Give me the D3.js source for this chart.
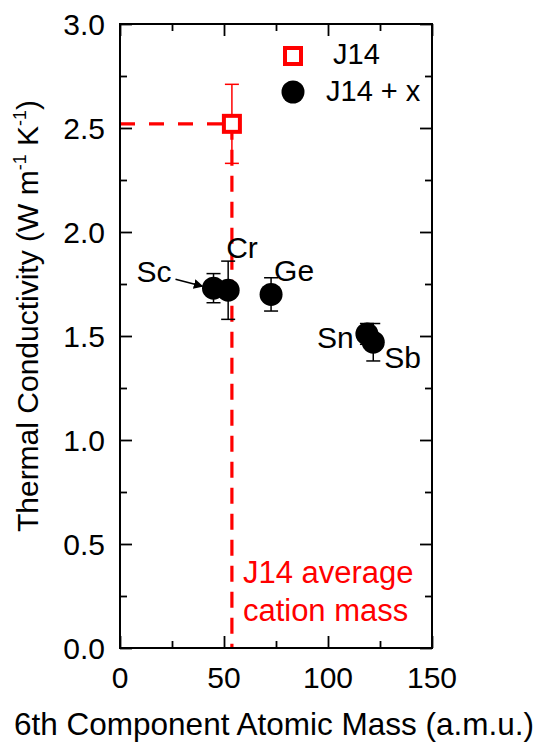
<!DOCTYPE html>
<html>
<head>
<meta charset="utf-8">
<script src="https://d3js.org/d3.v7.min.js"></script>
<style>
  body { margin: 0; background: #fff; }
  text { font-family: Arial, "Liberation Sans", sans-serif; }
</style>
</head>
<body>
<script>
// 6th component elements (J14 + x)
var elements = ["Sc", "Cr", "Ge", "Sn", "Sb"];
var mass     = [44.96, 52.0, 72.63, 118.71, 121.76];
var kappa    = [1.73, 1.72, 1.70, 1.51, 1.47];
var kappaErr = [0.07, 0.14, 0.08, 0.05, 0.09];

// reference J14
var refMass = 53.8;
var refKappa = 2.52;
var refErr = 0.19;

var xTicks = [0, 50, 100, 150];
var yTicks = [0.0, 0.5, 1.0, 1.5, 2.0, 2.5, 3.0];

var W = 542, H = 744;
var margin = {top: 24, left: 120, right: 110, bottom: 96};
var width = W - margin.left - margin.right;
var height = H - margin.top - margin.bottom;

var svg = d3.select("body").append("svg")
  .attr("width", W)
  .attr("height", H);

var x = d3.scaleLinear().domain([0, 150]).range([margin.left, margin.left + width]);
var y = d3.scaleLinear().domain([0, 3]).range([margin.top + height, margin.top]);

var red = "#ff0000";

// axes with inward ticks, mirrored
function tickAxis(axisFn, scale, major, minor, len, minLen, tr) {
  var g = svg.append("g").attr("transform", tr);
  g.call(axisFn(scale).tickValues(minor).tickSize(-minLen).tickFormat(""));
  var g2 = svg.append("g").attr("transform", tr);
  g2.call(axisFn(scale).tickValues(major).tickSize(-len).tickFormat(""));
  [g, g2].forEach(function(s) {
    s.select(".domain").remove();
    s.selectAll("line").attr("stroke", "#000").attr("stroke-width", 1.8);
  });
}
var xMinor = d3.range(25, 150, 50);
var yMinor = d3.range(0.25, 3, 0.5);
tickAxis(d3.axisBottom, x, xTicks, xMinor, 12, 7, "translate(0," + y(0) + ")");
tickAxis(d3.axisTop, x, xTicks, xMinor, 12, 7, "translate(0," + y(3) + ")");
tickAxis(d3.axisLeft, y, yTicks, yMinor, 12, 7, "translate(" + x(0) + ",0)");
tickAxis(d3.axisRight, y, yTicks, yMinor, 12, 7, "translate(" + x(150) + ",0)");

// tick labels
svg.append("g").selectAll("text").data(xTicks).enter().append("text")
  .attr("x", function(d) { return x(d); })
  .attr("y", y(0) + 40)
  .attr("text-anchor", "middle")
  .attr("font-size", 30)
  .text(function(d) { return d; });

svg.append("g").selectAll("text").data(yTicks).enter().append("text")
  .attr("x", x(0) - 15)
  .attr("y", function(d) { return y(d); })
  .attr("dy", "0.36em")
  .attr("text-anchor", "end")
  .attr("font-size", 30)
  .text(function(d) { return d.toFixed(1); });

// axis titles
svg.append("text")
  .attr("x", 274)
  .attr("y", 735)
  .attr("text-anchor", "middle")
  .attr("font-size", 31.5)
  .text("6th Component Atomic Mass (a.m.u.)");

var yt = svg.append("text")
  .attr("transform", "translate(38,316) rotate(-90)")
  .attr("text-anchor", "middle")
  .attr("font-size", 30);
yt.append("tspan").text("Thermal Conductivity (W m");
yt.append("tspan").attr("font-size", 18).attr("dy", -12).text("-1");
yt.append("tspan").attr("dy", 12).text(" K");
yt.append("tspan").attr("font-size", 18).attr("dy", -12).text("-1");
yt.append("tspan").attr("dy", 12).text(")");

// dashed guide lines for J14
svg.append("line")
  .attr("x1", x(0)).attr("x2", x(refMass))
  .attr("y1", y(refKappa)).attr("y2", y(refKappa))
  .attr("stroke", red).attr("stroke-width", 3.2)
  .attr("stroke-dasharray", "15,14");
svg.append("line")
  .attr("x1", x(refMass)).attr("x2", x(refMass))
  .attr("y1", y(refKappa)).attr("y2", y(0))
  .attr("stroke", red).attr("stroke-width", 3.2)
  .attr("stroke-dasharray", "16,10");

// J14 error bar
var cap = 7;
svg.append("line")
  .attr("x1", x(refMass)).attr("x2", x(refMass))
  .attr("y1", y(refKappa - refErr)).attr("y2", y(refKappa + refErr))
  .attr("stroke", red).attr("stroke-width", 1.5);
[refKappa - refErr, refKappa + refErr].forEach(function(v) {
  svg.append("line")
    .attr("x1", x(refMass) - cap).attr("x2", x(refMass) + cap)
    .attr("y1", y(v)).attr("y2", y(v))
    .attr("stroke", red).attr("stroke-width", 1.5);
});

// J14 square
svg.append("rect")
  .attr("x", x(refMass) - 8).attr("y", y(refKappa) - 8)
  .attr("width", 16).attr("height", 16)
  .attr("fill", "#fff").attr("stroke", red).attr("stroke-width", 4);

// J14 + x points
var pts = elements.map(function(e, i) {
  return {name: e, m: mass[i], k: kappa[i], err: kappaErr[i]};
});

var eb = svg.append("g").attr("stroke", "#000").attr("stroke-width", 1.5);
pts.forEach(function(d) {
  eb.append("line")
    .attr("x1", x(d.m)).attr("x2", x(d.m))
    .attr("y1", y(d.k - d.err)).attr("y2", y(d.k + d.err));
  [d.k - d.err, d.k + d.err].forEach(function(v) {
    eb.append("line")
      .attr("x1", x(d.m) - cap).attr("x2", x(d.m) + cap)
      .attr("y1", y(v)).attr("y2", y(v));
  });
});

svg.append("g").selectAll("circle").data(pts).enter().append("circle")
  .attr("cx", function(d) { return x(d.m); })
  .attr("cy", function(d) { return y(d.k); })
  .attr("r", 11.5)
  .attr("fill", "#000");

// element labels (offsets from the point)
var labOff = {Sc: [-77, -6], Cr: [-2, -32], Ge: [3, -13], Sn: [-50, 14], Sb: [11, 26]};
svg.append("g").selectAll("text").data(pts).enter().append("text")
  .attr("x", function(d) { return x(d.m) + labOff[d.name][0]; })
  .attr("y", function(d) { return y(d.k) + labOff[d.name][1]; })
  .attr("font-size", 30)
  .text(function(d) { return d.name; });

// arrow from Sc label
svg.append("defs").append("marker")
  .attr("id", "arr")
  .attr("viewBox", "0 0 10 10")
  .attr("refX", 9).attr("refY", 5)
  .attr("markerWidth", 6).attr("markerHeight", 6)
  .attr("orient", "auto")
  .append("path").attr("d", "M0,0L10,5L0,10z").attr("fill", "#000");
svg.append("line")
  .attr("x1", x(mass[0]) - 38).attr("y1", y(kappa[0]) - 9)
  .attr("x2", x(mass[0]) - 11).attr("y2", y(kappa[0]) - 2)
  .attr("stroke", "#000").attr("stroke-width", 1.6)
  .attr("marker-end", "url(#arr)");

// red annotation
svg.append("text")
  .attr("x", x(refMass) + 11).attr("y", y(0) - 65)
  .attr("fill", red).attr("font-size", 31)
  .text("J14 average");
svg.append("text")
  .attr("x", x(refMass) + 11).attr("y", y(0) - 27)
  .attr("fill", red).attr("font-size", 31)
  .text("cation mass");

// legend
svg.append("rect")
  .attr("x", 293 - 8).attr("y", 56 - 8)
  .attr("width", 16).attr("height", 16)
  .attr("fill", "#fff").attr("stroke", red).attr("stroke-width", 4);
svg.append("text").attr("x", 333).attr("y", 64).attr("font-size", 29).text("J14");
svg.append("circle").attr("cx", 293).attr("cy", 92).attr("r", 11.5).attr("fill", "#000");
svg.append("text").attr("x", 326).attr("y", 101).attr("font-size", 29).text("J14 + x");

// frame
svg.append("rect")
  .attr("x", x(0)).attr("y", y(3))
  .attr("width", x(150) - x(0)).attr("height", y(0) - y(3))
  .attr("fill", "none").attr("stroke", "#000").attr("stroke-width", 2);
</script>
</body>
</html>
